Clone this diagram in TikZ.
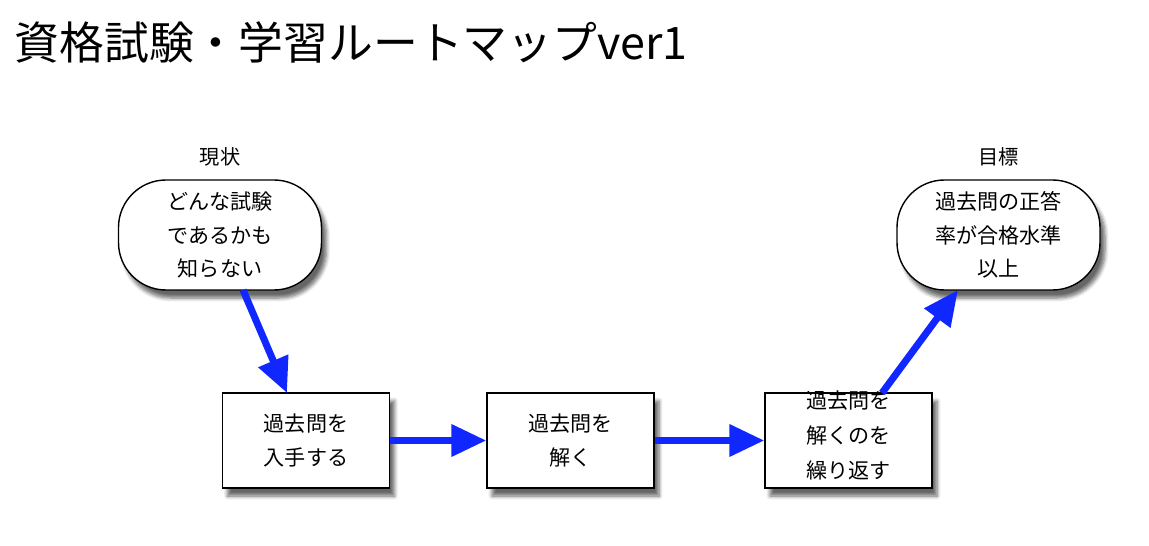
\documentclass[tikz,border=0pt]{standalone}
\usepackage{fontspec}
\setmainfont{Noto Sans CJK JP}
\usetikzlibrary{arrows.meta,shadows.blur}
\definecolor{flowblue}{RGB}{16,40,255}
\begin{document}
\begin{tikzpicture}[
    box/.style={draw=black, thick, fill=white, minimum width=3.34cm, minimum height=1.9cm,
      align=center, font=\fontsize{12}{19}\selectfont,
      blur shadow={shadow xshift=0.1cm, shadow yshift=-0.16cm, shadow opacity=60, shadow blur steps=6}},
    state/.style={box, rounded corners=0.95cm, minimum width=4.06cm, minimum height=2.2cm},
    tag/.style={font=\fontsize{11.5}{14}\selectfont},
    flow/.style={-{Triangle[length=0.7cm,width=0.62cm]}, line width=4pt, flowblue}
  ]
  \useasboundingbox (0,0) rectangle (22.98,-10.92);
  \node[anchor=west, font=\fontsize{25.5}{30}\selectfont] (title) at (0.17,-0.84) {資格試験・学習ルートマップver1};
  \draw
    (4.40,-3.14) node[tag] (now){現状}
    (4.40,-4.70) node[state] (0){どんな試験\\であるかも\\知らない}
    (6.12,-8.81) node[box] (1){過去問を\\入手する}
    (11.41,-8.81) node[box] (2){過去問を\\解く}
    (16.97,-8.81) node[box] (3){\raisebox{-0.76cm}[0pt][0pt]{\shortstack{過去問を\\[0.2cm]解くのを\\[0.2cm]繰り返す}}}
    (19.97,-3.14) node[tag] (goal){目標}
    (19.97,-4.70) node[state] (4){過去問の正答\\率が合格水準\\以上};
  \begin{scope}[flow]
    \draw (4.86,-5.80) to (5.74,-7.86);
    \draw (1) to (2);
    \draw (2) to (3);
    \draw (17.64,-7.86) to (19.16,-5.80);
  \end{scope}
\end{tikzpicture}
\end{document}
